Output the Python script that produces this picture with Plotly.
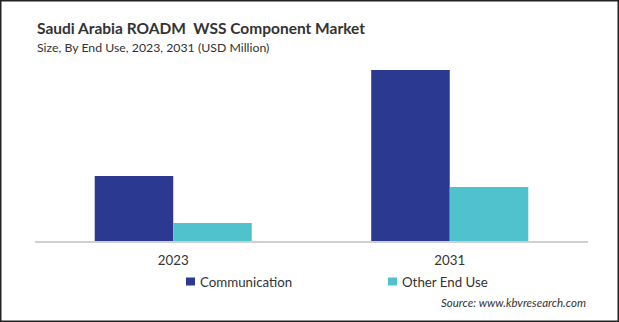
import plotly.graph_objects as go

# Market size by end use (USD Million)
years = ["2023", "2031"]
communication = [6.5, 17.1]
other_end_use = [1.8, 5.4]
series_names = ["Communication", "Other End Use"]

NAVY = "rgb(43,57,144)"
CYAN = "rgb(80,194,206)"
FONT = "Lato"
TEXT = "#333"

fig = go.Figure()
fig.add_trace(go.Bar(name=series_names[0], x=years, y=communication,
                     marker=dict(color=NAVY, line=dict(width=0))))
fig.add_trace(go.Bar(name=series_names[1], x=years, y=other_end_use,
                     marker=dict(color=CYAN, line=dict(width=0))))

W, H = 619, 322
L, R, T, B = 35, 31, 60, 81
PW, PH = W - L - R, H - T - B


def px(x):
    # pixel column -> paper x
    return (x - L) / PW


def py(y):
    # pixel row -> paper y
    return 1 - (y - T) / PH


annotations = [
    dict(text="<b>Saudi Arabia ROADM  WSS Component Market</b>", x=px(35), y=py(28),
         xanchor="left", yanchor="middle", font=dict(family=FONT, size=15.5, color=TEXT)),
    dict(text="Size, By End Use, 2023, 2031 (USD Million)", x=px(35), y=py(47),
         xanchor="left", yanchor="middle", font=dict(family=FONT, size=12.3, color=TEXT)),
    dict(text="<i>Source: www.kbvresearch.com</i>", x=px(588), y=py(302),
         xanchor="right", yanchor="middle", font=dict(family=FONT, size=11.5, color=TEXT)),
]
shapes = [
    dict(type="rect", x0=px(0.75), x1=px(618.25), y0=py(321.25), y1=py(0.75),
         line=dict(color="#222", width=1.5), fillcolor="rgba(0,0,0,0)"),
]

# Legend: colour key squares with their labels
legend_items = [(series_names[0], NAVY, 186), (series_names[1], CYAN, 388)]
for name, color, x0 in legend_items:
    shapes.append(dict(type="rect", x0=px(x0), x1=px(x0 + 9), y0=py(285.5), y1=py(277.5),
                       line=dict(width=0), fillcolor=color))
    annotations.append(dict(text=name, x=px(x0 + 12), y=py(281.5), xanchor="left",
                            yanchor="middle", font=dict(family=FONT, size=13.3, color=TEXT)))

for a in annotations:
    a.update(xref="paper", yref="paper", showarrow=False)
for s in shapes:
    s.update(xref="paper", yref="paper")

fig.update_layout(
    width=W, height=H,
    margin=dict(l=L, r=R, t=T, b=B),
    paper_bgcolor="white", plot_bgcolor="white",
    barmode="group", bargap=0.432, bargroupgap=0,
    font=dict(family=FONT, size=13, color=TEXT),
    showlegend=False,
    xaxis=dict(showline=True, linecolor="#d0d0d0", linewidth=1.5, ticks="outside",
               ticklen=6, tickcolor="rgba(0,0,0,0)",
               tickfont=dict(family=FONT, size=13.3, color=TEXT), showgrid=False),
    yaxis=dict(visible=False, range=[0, 18.1], showgrid=False, zeroline=False),
    annotations=annotations,
    shapes=shapes,
)

fig.write_html("out.html")
